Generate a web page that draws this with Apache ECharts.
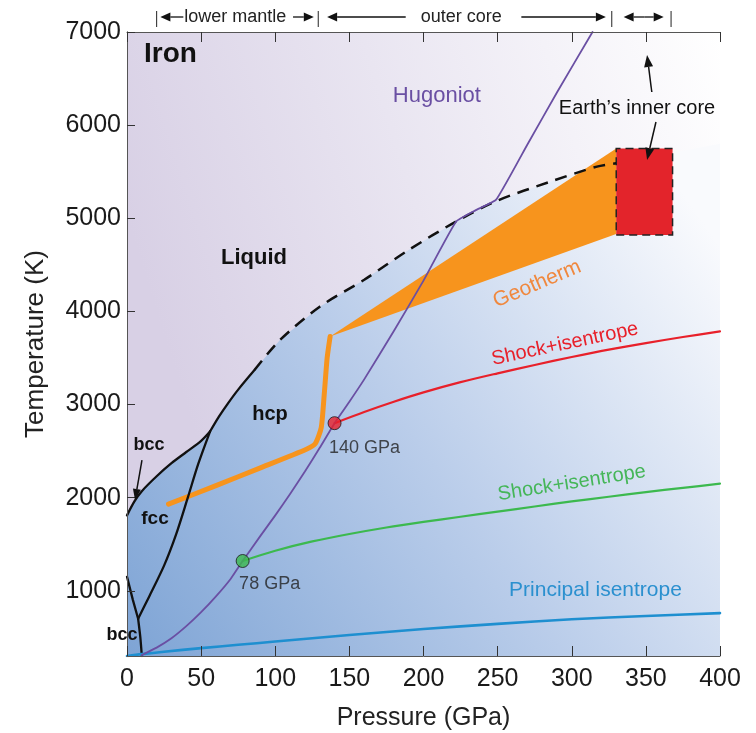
<!DOCTYPE html>
<html>
<head>
<meta charset="utf-8">
<script src="https://cdn.jsdelivr.net/npm/echarts@6/dist/echarts.min.js"></script>
<style>
  html, body { margin: 0; padding: 0; background: #ffffff; }
  #chart { width: 756px; height: 733px; }
</style>
</head>
<body>
<div id="chart"></div>
<script>
const FONT = '"Liberation Sans", Arial, Helvetica, sans-serif';

// Axis ticks
const pressureTicks = [0, 50, 100, 150, 200, 250, 300, 350, 400];
const temperatureTicks = [1000, 2000, 3000, 4000, 5000, 6000, 7000];

// Phase boundaries of iron, [pressure GPa, temperature K]
const bccFccLine = [[0, 1150], [4, 900], [7.5, 700]];
const bccHcpLine = [[7.5, 700], [9, 500], [10, 300]];
const fccHcpLine = [[7.5, 700], [15, 940], [25, 1270], [33, 1600], [41, 2000], [48, 2360], [56, 2710]];
const fccMelting = [[0, 1810], [5, 1960], [10, 2070], [20, 2230], [30, 2370], [40, 2490], [50, 2610], [56, 2710]];
const hcpMelting = [[56, 2710], [62, 2870], [68, 3010], [75, 3160], [86, 3370]];
const hcpMeltingDashed = [[86, 3370], [103, 3690], [130, 4050], [160, 4340], [190, 4660], [222, 4965], [250, 5190], [285, 5390], [317, 5555], [330, 5590]];
const solidCap = [[400, 5800]];

// Shock and isentrope paths
const hugoniot = [[10, 310], [20, 390], [30, 490], [40, 620], [50, 770], [60, 940], [70, 1130], [78, 1320], [90, 1590], [100, 1810], [110, 2040], [120, 2280], [130, 2535], [140, 2800], [150, 3030], [160, 3270], [180, 3790], [200, 4330], [222, 4965], [235, 5085], [249, 5200], [270, 5790], [290, 6350], [314, 7000]];
const shockIsentropeRed = [[140, 2800], [160, 2920], [180, 3030], [200, 3130], [225, 3240], [250, 3335], [275, 3425], [300, 3510], [325, 3590], [350, 3660], [375, 3725], [400, 3785]];
const shockIsentropeGreen = [[78, 1320], [100, 1430], [125, 1530], [150, 1610], [175, 1680], [200, 1740], [225, 1795], [250, 1850], [275, 1905], [300, 1960], [325, 2010], [350, 2060], [375, 2105], [400, 2150]];
const principalIsentrope = [[0, 300], [10, 320], [25, 345], [50, 385], [75, 420], [100, 455], [150, 525], [200, 590], [250, 645], [300, 695], [350, 730], [400, 760]];
const shockStarts = [[78, 1320], [140, 2800]];

// Geotherm: mantle line and core band
const geothermLine = [[28, 1930], [60, 2130], [90, 2320], [121, 2520], [127, 2580], [131, 2750], [133, 3100], [135, 3500], [137, 3730]];
const geothermBand = [[137, 3730], [330, 5750], [330, 4830]];

// Inner core box
const innerCore = [[330, 4820], [368, 4820], [368, 5750], [330, 5750]];

// Depth zones along the top, in GPa
const zoneBars = [20, 129, 327, 367];

const X_MIN = 0, X_MAX = 400, Y_MIN = 300, Y_MAX = 7000;

const chart = echarts.init(document.getElementById('chart'), null, { renderer: 'canvas' });

function polygonSeries(name, points, style, z) {
  return {
    type: 'custom',
    name: name,
    z: z,
    silent: true,
    clip: true,
    coordinateSystem: 'cartesian2d',
    data: [points[0]],
    renderItem: function (params, api) {
      return {
        type: 'polygon',
        shape: { points: points.map(function (p) { return api.coord(p); }) },
        style: style
      };
    }
  };
}

function lineSeries(name, data, color, width, extra) {
  return Object.assign({
    type: 'line',
    name: name,
    data: data,
    symbol: 'none',
    showSymbol: false,
    smooth: 0.3,
    silent: true,
    z: 5,
    lineStyle: { color: color, width: width, cap: 'round', join: 'round' }
  }, extra || {});
}

const frame = { show: true, lineStyle: { color: '#555555', width: 1 } };
const plain = function (v) { return String(v); };

const solidBoundary = [[0, Y_MIN]].concat(fccMelting, hcpMelting.slice(1), hcpMeltingDashed.slice(1), solidCap, [[X_MAX, Y_MIN]]);

const option = {
  animation: false,
  backgroundColor: '#ffffff',
  grid: { left: 127, right: 36, top: 32, bottom: 77, outerBoundsMode: 'none', containLabel: false },
  xAxis: [
    {
      type: 'value', position: 'bottom', min: X_MIN, max: X_MAX, interval: 50, z: 10,
      axisLine: frame,
      axisTick: { show: true, inside: true, length: 10, lineStyle: { color: '#333333', width: 1 } },
      axisLabel: { fontSize: 25, color: '#1a1a1a', fontFamily: FONT, margin: 11, formatter: plain },
      splitLine: { show: false },
      name: 'Pressure (GPa)', nameLocation: 'middle', nameGap: 50,
      nameTextStyle: { fontSize: 25, color: '#222222', fontFamily: FONT }
    },
    {
      type: 'value', position: 'top', min: X_MIN, max: X_MAX, interval: 50, z: 10,
      axisLine: frame,
      axisTick: { show: true, inside: true, length: 10, lineStyle: { color: '#333333', width: 1 } },
      axisLabel: { show: false },
      splitLine: { show: false }
    }
  ],
  yAxis: [
    {
      type: 'value', position: 'left', min: Y_MIN, max: Y_MAX, z: 10,
      axisLine: frame,
      axisTick: { show: true, inside: true, length: 8, customValues: temperatureTicks, lineStyle: { color: '#333333', width: 1 } },
      axisLabel: { customValues: temperatureTicks, fontSize: 25, color: '#1a1a1a', fontFamily: FONT, margin: 6, formatter: plain },
      splitLine: { show: false },
      name: 'Temperature (K)', nameLocation: 'middle', nameGap: 78, nameRotate: 90,
      nameTextStyle: { fontSize: 26, color: '#222222', fontFamily: FONT }
    },
    {
      type: 'value', position: 'right', min: Y_MIN, max: Y_MAX, z: 10,
      axisLine: frame,
      axisTick: { show: false },
      axisLabel: { show: false },
      splitLine: { show: false }
    }
  ],
  series: [
    polygonSeries('liquid field', [[X_MIN, Y_MIN], [X_MAX, Y_MIN], [X_MAX, Y_MAX], [X_MIN, Y_MAX]], {
      fill: new echarts.graphic.LinearGradient(0, 0.3, 1, 0, [
        { offset: 0, color: '#d8d0e5' },
        { offset: 0.45, color: '#e9e5f1' },
        { offset: 1, color: '#ffffff' }
      ])
    }, 0),
    polygonSeries('solid field', solidBoundary, {
      fill: new echarts.graphic.LinearGradient(0, 1, 1, 0.2, [
        { offset: 0, color: '#7ea4d5' },
        { offset: 0.5, color: '#bacdea' },
        { offset: 1, color: '#f9fafd' }
      ])
    }, 1),
    polygonSeries('geotherm band', geothermBand, { fill: '#f7941d' }, 3),
    polygonSeries('inner core', innerCore, {
      fill: '#e3242b', stroke: '#222222', lineWidth: 1.5, lineDash: [8, 5]
    }, 3),
    lineSeries('bcc-fcc', bccFccLine, '#111111', 2.3, { smooth: 0 }),
    lineSeries('bcc-hcp', bccHcpLine, '#111111', 2.3, { smooth: 0.2 }),
    lineSeries('fcc-hcp', fccHcpLine, '#111111', 2.3),
    lineSeries('fcc melting', fccMelting, '#111111', 2.3),
    lineSeries('hcp melting', hcpMelting, '#111111', 2.3),
    lineSeries('hcp melting (extrapolated)', hcpMeltingDashed, '#111111', 2.5, {
      lineStyle: { color: '#111111', width: 2.5, type: [12, 8], cap: 'butt' }
    }),
    lineSeries('geotherm', geothermLine, '#f7941d', 5, { z: 4, smooth: 0.2 }),
    lineSeries('principal isentrope', principalIsentrope, '#1e8fd0', 2.6),
    lineSeries('shock+isentrope 78', shockIsentropeGreen, '#3cb94e', 2.2),
    lineSeries('shock+isentrope 140', shockIsentropeRed, '#e8202a', 2.2),
    lineSeries('Hugoniot', hugoniot, '#6a4fa3', 1.8, { z: 6, smooth: 0.12 }),
    {
      type: 'scatter',
      name: 'shock states',
      z: 8,
      silent: true,
      symbolSize: 13,
      data: shockStarts.map(function (p, i) {
        return {
          value: p,
          itemStyle: { color: i === 0 ? '#3cb94e' : '#e8202a', borderColor: '#1a1a1a', borderWidth: 1 },
          label: { offset: i === 0 ? [27, 2] : [30, 4] }
        };
      }),
      label: {
        show: true,
        position: 'bottom',
        formatter: function (p) { return p.value[0] + ' GPa'; },
        fontSize: 18,
        color: '#222222',
        fontFamily: FONT
      }
    }
  ]
};

chart.setOption(option);

// Annotations anchored to the data coordinate system
function px(p) { return chart.convertToPixel({ gridIndex: 0 }, p); }

function text(str, at, opt) {
  const pos = px(at);
  return {
    type: 'text',
    x: pos[0], y: pos[1],
    rotation: (opt.rotate || 0) * Math.PI / 180,
    z: 20,
    style: {
      text: str,
      fill: opt.color || '#111111',
      fontSize: opt.size,
      fontWeight: opt.bold ? 'bold' : 'normal',
      fontFamily: FONT,
      align: opt.align || 'center',
      verticalAlign: 'middle'
    }
  };
}

function arrowPx(from, to, headLen, headW, width) {
  const ang = Math.atan2(to[1] - from[1], to[0] - from[0]);
  const bx = to[0] - headLen * Math.cos(ang), by = to[1] - headLen * Math.sin(ang);
  const ox = -Math.sin(ang) * headW / 2, oy = Math.cos(ang) * headW / 2;
  return [
    { type: 'line', z: 20, shape: { x1: from[0], y1: from[1], x2: bx, y2: by }, style: { stroke: '#111111', lineWidth: width } },
    { type: 'polygon', z: 20, shape: { points: [to, [bx + ox, by + oy], [bx - ox, by - oy]] }, style: { fill: '#111111' } }
  ];
}

const labels = [
  text('Iron', [11.5, 6764], { size: 28, bold: true, align: 'left' }),
  text('Liquid', [85.7, 4573], { size: 22, bold: true }),
  text('hcp', [96.5, 2898], { size: 20, bold: true }),
  text('bcc', [14.8, 2565], { size: 18, bold: true }),
  text('fcc', [18.9, 1771], { size: 19, bold: true }),
  text('bcc', [-3.4, 525], { size: 18, bold: true }),
  text('Hugoniot', [209, 6313], { size: 22, color: '#6a4fa3' }),
  text('Earth\u2019s inner core', [344, 6184], { size: 20, color: '#111111' }),
  text('Geotherm', [276.6, 4294], { size: 21, color: '#f0883e', rotate: 23 }),
  text('Shock+isentrope', [295.4, 3650], { size: 20, color: '#e8202a', rotate: 12 }),
  text('Shock+isentrope', [300, 2157], { size: 20, color: '#45b658', rotate: 9 }),
  text('Principal isentrope', [316, 1008], { size: 21, color: '#2b90cf' })
];

const pointers = []
  .concat(arrowPx(px([10.1, 2404]), px([5.4, 1975]), 11, 8, 1.5))
  .concat(arrowPx(px([354, 6356]), px([350.8, 6753]), 12, 9, 1.5))
  .concat(arrowPx(px([356.8, 6034]), px([350.8, 5626]), 12, 9, 1.5));

// Depth zones above the frame
const yMark = 17;
function zx(p) { return px([p, Y_MAX])[0]; }
const zones = [];
zoneBars.forEach(function (p) {
  zones.push({ type: 'line', z: 20, shape: { x1: zx(p), y1: 11, x2: zx(p), y2: 27 }, style: { stroke: '#222222', lineWidth: 1 } });
});
function hArrow(pFrom, pTo) {
  return arrowPx([zx(pFrom), yMark], [zx(pTo), yMark], 10, 9, 1.3);
}
zones.push.apply(zones, hArrow(38, 22.5));
zones.push.apply(zones, hArrow(112, 126));
zones.push.apply(zones, hArrow(188, 135));
zones.push.apply(zones, hArrow(266, 323));
zones.push.apply(zones, hArrow(349, 335));
zones.push.apply(zones, hArrow(349, 362));
zones.push({ type: 'text', z: 20, x: zx(73), y: yMark, style: { text: 'lower mantle', fontSize: 18, fontFamily: FONT, fill: '#222222', align: 'center', verticalAlign: 'middle' } });
zones.push({ type: 'text', z: 20, x: zx(225.5), y: yMark, style: { text: 'outer core', fontSize: 18, fontFamily: FONT, fill: '#222222', align: 'center', verticalAlign: 'middle' } });

chart.setOption({ graphic: { elements: labels.concat(pointers, zones) } });
</script>
</body>
</html>
